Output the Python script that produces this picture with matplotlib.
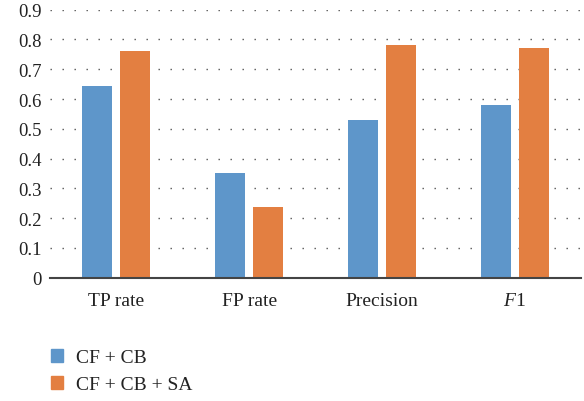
import numpy as np
import matplotlib.pyplot as plt
from matplotlib.patches import Patch

plt.rcParams['font.family'] = 'Liberation Serif'
plt.rcParams['mathtext.fontset'] = 'custom'
plt.rcParams['mathtext.rm'] = 'Liberation Serif'
plt.rcParams['mathtext.it'] = 'Liberation Serif:italic'

categories = ['TP rate', 'FP rate', 'Precision', r'$F$1']
cf_cb = [0.644, 0.352, 0.530, 0.580]
cf_cb_sa = [0.761, 0.237, 0.781, 0.771]
series_names = ['CF + CB', 'CF + CB + SA']
yticks = [0, 0.1, 0.2, 0.3, 0.4, 0.5, 0.6, 0.7, 0.8, 0.9]

blue = '#5E96CA'
orange = '#E37F41'

fig = plt.figure(figsize=(5.84, 4.02), dpi=100)
ax = fig.add_axes([50 / 584, 1 - 278.7 / 402, 531 / 584, 268 / 402])

x = np.arange(len(categories))
w = 0.226
off = 0.143
ax.bar(x - off, cf_cb, w, color=blue, zorder=3)
ax.bar(x + off, cf_cb_sa, w, color=orange, zorder=3)

ax.set_xlim(-0.5, len(categories) - 0.5)
ax.set_ylim(0, 0.9)
ax.set_yticks(yticks)
ax.set_yticklabels(['0'] + ['%.1f' % v for v in yticks[1:]])
ax.set_xticks(x)
ax.set_xticklabels(categories)

# dotted horizontal grid, one dot every ~12 px
ax.yaxis.grid(True, linestyle=(0, (1.0, 7.64)), color='#555555', linewidth=1.0, zorder=0)
ax.set_axisbelow(True)
for side in ['top', 'right', 'left']:
    ax.spines[side].set_visible(False)
ax.spines['bottom'].set_color('#444444')
ax.spines['bottom'].set_linewidth(1.5)
ax.spines['bottom'].set_zorder(4)

ax.tick_params(axis='y', length=0, pad=6, labelsize=13.5, colors='#222222')
ax.tick_params(axis='x', length=0, pad=10, labelsize=14, colors='#222222')

handles = [Patch(color=blue), Patch(color=orange)]
fig.legend(handles, series_names, loc='upper left',
           bbox_to_anchor=(51 / 584, 1 - 350 / 402), frameon=False,
           borderaxespad=0, borderpad=0, fontsize=14,
           handlelength=0.62, handleheight=0.62, handletextpad=0.67,
           labelspacing=0.52, labelcolor='#222222')

fig.savefig('out.png', dpi=100)
